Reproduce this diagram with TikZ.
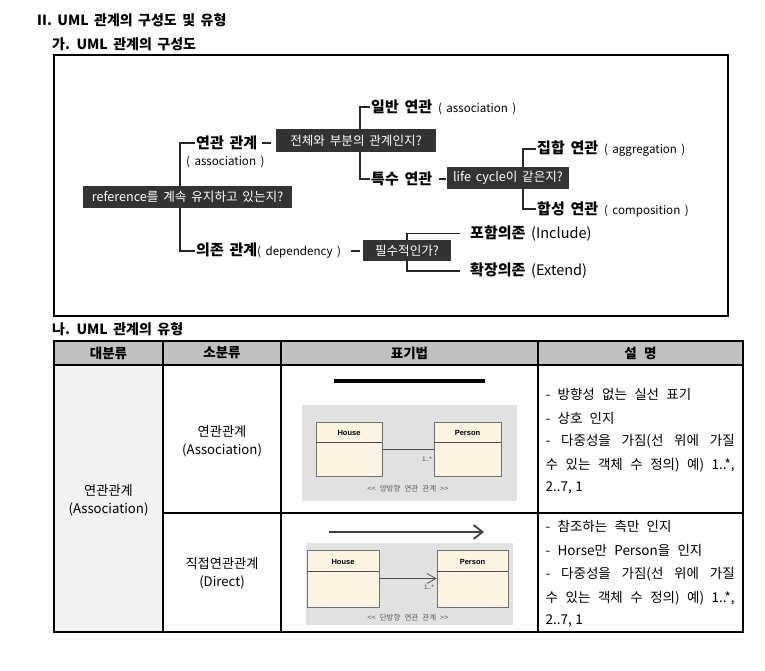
\documentclass[tikz,border=0pt]{standalone}
\usepackage{fontspec}
\setmainfont{Noto Sans CJK KR}[WordSpace=2.4]
\newfontfamily\dgm{Noto Sans CJK KR}[WordSpace=1.5]
\newfontfamily\hdfont{Noto Sans CJK KR}[WordSpace=1.7]
\newfontfamily\umlfont{Liberation Sans}
\usetikzlibrary{arrows.meta,backgrounds}
\newcommand\fsz[1]{\fontsize{#1}{#1}\selectfont}
\newcommand\jl[1]{\makebox[189pt][s]{#1}}
\definecolor{qdark}{HTML}{333333}
\definecolor{hdr}{HTML}{C0C0C0}
\definecolor{colone}{HTML}{F2F2F2}
\definecolor{panel}{HTML}{E1E1E1}
\definecolor{cream}{HTML}{FDF4E3}
\definecolor{umlb}{HTML}{707070}
\definecolor{treec}{HTML}{262626}
\tikzset{
  qbox/.style={fill=qdark, text=white, font=\dgm\fsz{12.6}, inner sep=0},
  lbl/.style={anchor=west, inner sep=1, font=\dgm\fsz{15}\bfseries},
  paren/.style={anchor=west, inner sep=0, font=\dgm\fsz{11.6}},
  tree/.style={draw=treec, line width=1.1},
  headf/.style={anchor=west, inner sep=0, font=\hdfont\fsz{14}\bfseries},
  hd/.style={inner sep=0, font=\fsz{13.5}\bfseries},
  cell/.style={inner sep=0, font=\fsz{13.2}, align=center},
  desc/.style={anchor=west, inner sep=0, font=\fsz{13.5}},
  cls/.style={draw=umlb, fill=cream, line width=0.8, inner sep=0},
  clsname/.style={inner sep=0, font=\umlfont\fsz{7.5}\bfseries},
  umlline/.style={draw=black!70, line width=0.7},
  capt/.style={inner sep=0, font=\fsz{7.5}, text=black!65},
  mult/.style={inner sep=0, font=\umlfont\fsz{6.5}, text=black!70},
  tgrid/.style={line width=1.1}
}
\begin{document}
\begin{tikzpicture}[x=1pt,y=-1pt]
\useasboundingbox (0,0) rectangle (765,670);

% headings
\node[headf] (title) at (37,20) {II. UML 관계의 구성도 및 유형};
\node[headf] (subA) at (52,44) {가. UML 관계의 구성도};
\node[headf] (subB) at (52,329) {나. UML 관계의 유형};

% diagram frame
\draw[line width=1.2] (54,55) rectangle (728,316);

% question boxes
\node[qbox, minimum width=209, minimum height=22] (Q1) at (187.5,197) {reference를 계속 유지하고 있는지?};
\node[qbox, minimum width=160, minimum height=23] (Q2) at (356,140.5) {전체와 부분의 관계인지?};
\node[qbox, minimum width=122, minimum height=22] (Q3) at (508,178) {life cycle이 같은지?};
\node[qbox, minimum width=88, minimum height=21] (Q4) at (407,250.5) {필수적인가?};

% labels
\node[lbl] (L1) at (195,143) {연관 관계};
\node[paren] (L1s) at (186,162) {( association )};
\node[lbl] (L2) at (195,251) {의존 관계{\fsz{11.6}\mdseries( dependency )}};
\node[lbl] (L3) at (370,107) {일반 연관 {\fsz{11.6}\mdseries( association )}};
\node[lbl] (L4) at (370,179) {특수 연관};
\node[lbl] (L5) at (536,149) {집합 연관 {\fsz{11.6}\mdseries( aggregation )}};
\node[lbl] (L6) at (536,209) {합성 연관 {\fsz{11.6}\mdseries( composition )}};
\node[lbl] (L7) at (469,233.5) {포함의존 {\fsz{14.5}\mdseries(Include)}};
\node[lbl] (L8) at (469,271) {확장의존 {\fsz{14.5}\mdseries(Extend)}};

\coordinate (T1) at (180,197);
\coordinate (T2) at (360,140);
\coordinate (T3) at (523,178);
\coordinate (T4) at (407,252);

\begin{scope}[on background layer]
\fill[white] (0,0) rectangle (765,670);
\draw[tree] (L1.west) -| (T1) |- (L2.west);
\draw[tree] (L3.west) -| (T2) |- (L4.west);
\draw[tree] (L5.west) -| (T3) |- (L6.west);
\draw[tree, shorten <=9, shorten >=9] (L7.west) -| (T4) |- (L8.west);
\draw[tree, shorten <=4, shorten >=5] (L1.east) -- (L1.east -| Q2.west);
\draw[tree, shorten <=6, shorten >=1] (L4.east) -- (L4.east -| Q3.west);
\draw[tree, shorten <=9, shorten >=3] (L2.east) -- (L2.east -| Q4.west);
\end{scope}

% table
\fill[hdr] (54,341) rectangle (743,365);
\fill[colone] (54,365) rectangle (163,632);
\draw[tgrid] (54,341) rectangle (743,632);
\draw[tgrid] (54,365) -- (743,365);
\draw[tgrid] (163,513) -- (743,513);
\foreach \x in {163,281,538} \draw[tgrid] (\x,341) -- (\x,632);

\node[hd] (h1) at (108.5,353) {대분류};
\node[hd] (h2) at (222,353) {소분류};
\node[hd] (h3) at (409.5,353) {표기법};
\node[hd] (h4) at (640.5,353) {설 명};

\node[cell] (c1) at (108.5,500) {연관관계\\[5pt](Association)};
\node[cell] (c2) at (222,441) {연관관계\\[5pt](Association)};
\node[cell] (c3) at (222,573) {직접연관관계\\[5pt](Direct)};

\node[desc] (d11) at (545.5,394.5) {- 방향성 없는 실선 표기};
\node[desc] (d12) at (545.5,418) {- 상호 인지};
\node[desc] (d13) at (545.5,441.5) {\jl{- 다중성을 가짐(선 위에 가질}};
\node[desc] (d14) at (545.5,465.5) {\jl{수 있는 객체 수 정의) 예) 1..*,}};
\node[desc] (d15) at (545.5,488) {2..7,\hspace{3.5pt}1};
\node[desc] (d21) at (545.5,526.5) {- 참조하는 측만 인지};
\node[desc] (d22) at (545.5,550.5) {- Horse만 Person을 인지};
\node[desc] (d23) at (545.5,574) {\jl{- 다중성을 가짐(선 위에 가질}};
\node[desc] (d24) at (545.5,598.5) {\jl{수 있는 객체 수 정의) 예) 1..*,}};
\node[desc] (d25) at (545.5,620.5) {2..7,\hspace{3.5pt}1};

% notation row 1
\draw[line width=4] (334,381) -- (485,381);
\fill[panel] (302,405) rectangle (517,501);
\node[cls, minimum width=66, minimum height=54] (H1) at (349,449) {};
\node[cls, minimum width=67, minimum height=54] (P1) at (467.5,449) {};
\draw[umlline] ([yshift=-21]H1.north west) -- ([yshift=-21]H1.north east);
\draw[umlline] ([yshift=-21]P1.north west) -- ([yshift=-21]P1.north east);
\node[clsname] (H1n) at (349,432.5) {House};
\node[clsname] (P1n) at (467.5,432.5) {Person};
\draw[umlline] (H1.east) -- (P1.west);
\node[mult, anchor=east] (m1) at (432,459) {1..*};
\node[capt] (cap1) at (408,489) {<{}< 양방향 연관 관계 >{}>};

% notation row 2
\draw[line width=1.8, draw=black!75, -{Straight Barb[length=9pt,width=14pt]}] (329,532) -- (484,532);
\fill[panel] (306,543) rectangle (513,625);
\node[cls, minimum width=72, minimum height=57] (H2) at (343,578.5) {};
\node[cls, minimum width=71, minimum height=57] (P2) at (472.5,578.5) {};
\draw[umlline] ([yshift=-22]H2.north west) -- ([yshift=-22]H2.north east);
\draw[umlline] ([yshift=-22]P2.north west) -- ([yshift=-22]P2.north east);
\node[clsname] (H2n) at (343,561.5) {House};
\node[clsname] (P2n) at (472.5,561.5) {Person};
\draw[umlline, -{Straight Barb[length=9pt,width=10pt]}] (H2.east) -- (P2.west);
\node[mult, anchor=east] (m2) at (434,587) {1..*};
\node[capt] (cap2) at (408,618) {<{}< 단방향 연관 관계 >{}>};
\end{tikzpicture}
\end{document}
